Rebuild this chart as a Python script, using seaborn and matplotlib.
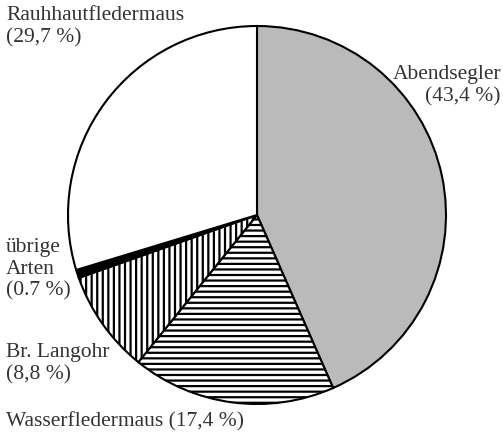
import matplotlib
matplotlib.use("Agg")
import matplotlib.pyplot as plt
import seaborn as sns

# Data (share of recorded bat species)
species = ["Abendsegler", "Wasserfledermaus", "Br. Langohr", "übrige Arten", "Rauhhautfledermaus"]
shares = [43.4, 17.4, 8.8, 0.7, 29.7]
labels = ["Abendsegler\n(43,4 %)", "Wasserfledermaus (17,4 %)", "Br. Langohr\n(8,8 %)",
          "übrige\nArten\n(0.7 %)", "Rauhhautfledermaus\n(29,7 %)"]

sns.set_style("white")
plt.rcParams['font.family'] = ['Liberation Serif', 'DejaVu Serif']
plt.rcParams['hatch.linewidth'] = 1.6

fig = plt.figure(figsize=(5.03, 4.34), dpi=100)
ax = fig.add_axes([0, 0, 1, 1])

colors = ["#bababa", "white", "white", "black", "white"]
hatches = ["", "---", "|||", "", ""]

wedges, _ = ax.pie(shares, startangle=90, counterclock=False, colors=colors,
                   center=(257, 219), radius=189, frame=True,
                   wedgeprops=dict(edgecolor="black", linewidth=1.5))
for w, h in zip(wedges, hatches):
    w.set_hatch(h)
ax.set_xlim(0, 503)
ax.set_ylim(0, 434)
ax.axis("off")

fs = 15.5
txt_col = "#333333"
ax.text(501, 369, labels[0], ha="right", va="top", fontsize=fs, color=txt_col,
        multialignment="right", linespacing=1.2)
ax.text(6, 3, labels[1], ha="left", va="bottom", fontsize=fs, color=txt_col)
ax.text(6, 91, labels[2], ha="left", va="top", fontsize=fs, color=txt_col, linespacing=1.2)
ax.text(6, 196, labels[3], ha="left", va="top", fontsize=fs, color=txt_col, linespacing=1.2)
ax.text(6, 428, labels[4], ha="left", va="top", fontsize=fs, color=txt_col, linespacing=1.2)

fig.savefig("out.png", dpi=100)
